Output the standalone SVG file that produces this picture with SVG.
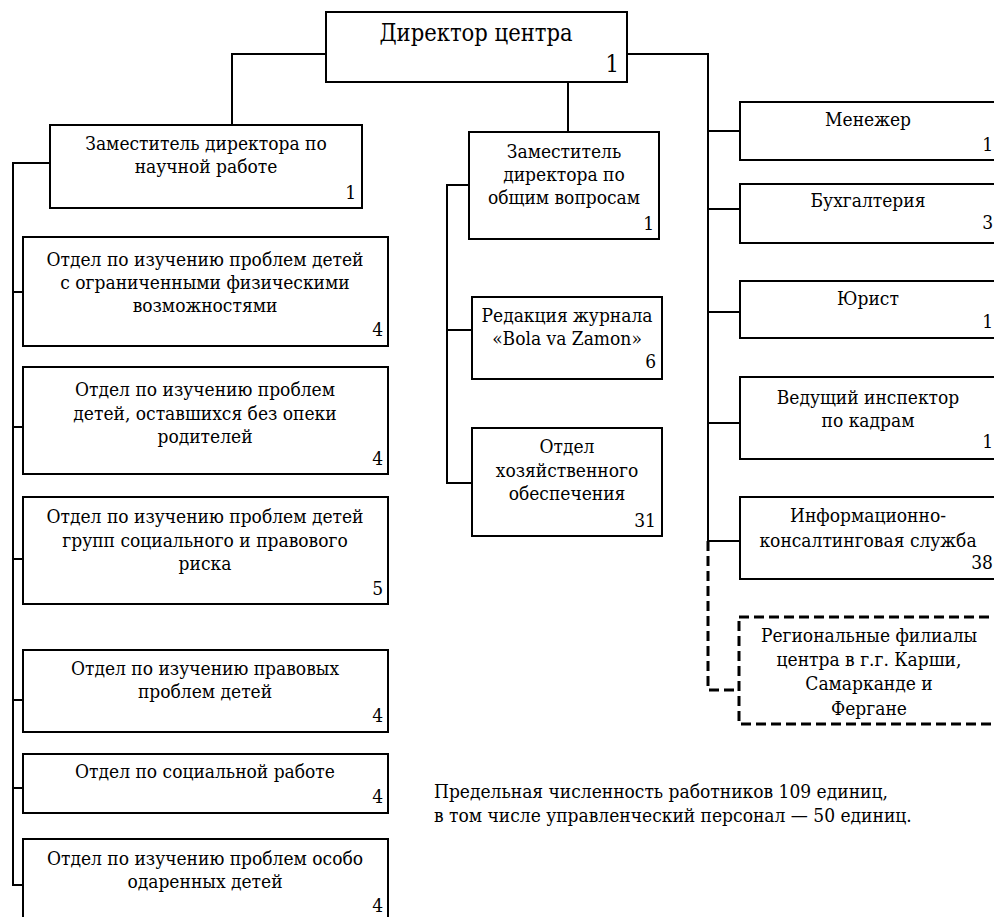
<svg xmlns="http://www.w3.org/2000/svg" width="994" height="917" viewBox="0 0 994 917">
<style>
  .box { fill: #fff; stroke: #000; stroke-width: 2; }
  .dbox { fill: #fff; stroke: #000; stroke-width: 3; stroke-dasharray: 10 5; }
  .ln { fill: none; stroke: #000; stroke-width: 2; }
  .dln { fill: none; stroke: #000; stroke-width: 3; stroke-dasharray: 10 5; }
  .c { text-anchor: middle; }
  .n { text-anchor: end; }
  .big { font-size: 23.5px; }
</style>
<rect width="994" height="917" fill="#fff"/>
<g id="connectors">
  <path class="ln" d="M326,54 H232 V125"/>
  <path class="ln" d="M568,82 V132"/>
  <path class="ln" d="M627,54 H708 V541"/>
  <path class="ln" d="M708,131 H740 M708,209 H740 M708,312 H740 M708,423 H740 M708,541 H740"/>
  <path class="dln" d="M708,541 V690 H739"/>
  <path class="ln" d="M50,163 H13 V885 H23"/>
  <path class="ln" d="M13,292 H23 M13,427 H23 M13,559 H23 M13,700 H23 M13,788 H23"/>
  <path class="ln" d="M469,185 H447 V483 H472 M447,330 H472"/>
</g>
<g font-family="'DejaVu Serif', serif" font-stretch="condensed" font-size="19" fill="#000">
<g id="director">
  <rect class="box" x="326" y="12" width="301" height="70"/>
  <text class="c big" x="476" y="41">Директор центра</text>
  <text class="n big" x="619" y="72">1</text>
</g>
<g id="deputy-science">
  <rect class="box" x="50" y="125" width="312" height="83"/>
  <text class="c" x="206" y="150">Заместитель директора по</text>
  <text class="c" x="206" y="173">научной работе</text>
  <text class="n" x="356" y="199">1</text>
</g>
<g id="dept-physical">
  <rect class="box" x="23" y="237" width="365" height="109"/>
  <text class="c" x="205" y="266">Отдел по изучению проблем детей</text>
  <text class="c" x="205" y="289">с ограниченными физическими</text>
  <text class="c" x="205" y="312">возможностями</text>
  <text class="n" x="383" y="336">4</text>
</g>
<g id="dept-orphans">
  <rect class="box" x="23" y="367" width="365" height="107"/>
  <text class="c" x="205" y="396">Отдел по изучению проблем</text>
  <text class="c" x="205" y="420">детей, оставшихся без опеки</text>
  <text class="c" x="205" y="443">родителей</text>
  <text class="n" x="383" y="465">4</text>
</g>
<g id="dept-risk">
  <rect class="box" x="23" y="497" width="365" height="107"/>
  <text class="c" x="205" y="523">Отдел по изучению проблем детей</text>
  <text class="c" x="205" y="547">групп социального и правового</text>
  <text class="c" x="205" y="570">риска</text>
  <text class="n" x="383" y="595">5</text>
</g>
<g id="dept-legal">
  <rect class="box" x="23" y="650" width="365" height="82"/>
  <text class="c" x="205" y="675">Отдел по изучению правовых</text>
  <text class="c" x="205" y="698">проблем детей</text>
  <text class="n" x="383" y="722">4</text>
</g>
<g id="dept-social">
  <rect class="box" x="23" y="754" width="365" height="59"/>
  <text class="c" x="205" y="778">Отдел по социальной работе</text>
  <text class="n" x="383" y="803">4</text>
</g>
<g id="dept-gifted">
  <rect class="box" x="23" y="839" width="365" height="100"/>
  <text class="c" x="205" y="865">Отдел по изучению проблем особо</text>
  <text class="c" x="205" y="888">одаренных детей</text>
  <text class="n" x="383" y="912">4</text>
</g>
<g id="deputy-general">
  <rect class="box" x="469" y="132" width="190" height="107"/>
  <text class="c" x="564" y="158">Заместитель</text>
  <text class="c" x="564" y="181">директора по</text>
  <text class="c" x="564" y="204">общим вопросам</text>
  <text class="n" x="654" y="230">1</text>
</g>
<g id="journal">
  <rect class="box" x="472" y="297" width="190" height="82"/>
  <text class="c" x="567" y="322">Редакция журнала</text>
  <text class="c" x="567" y="345">«Bola va Zamon»</text>
  <text class="n" x="656" y="368">6</text>
</g>
<g id="supply">
  <rect class="box" x="472" y="428" width="190" height="108"/>
  <text class="c" x="567" y="453">Отдел</text>
  <text class="c" x="567" y="477">хозяйственного</text>
  <text class="c" x="567" y="500">обеспечения</text>
  <text class="n" x="656" y="527">31</text>
</g>
<g id="manager">
  <rect class="box" x="740" y="102" width="270" height="58"/>
  <text class="c" x="868" y="126">Менежер</text>
  <text class="n" x="993" y="151">1</text>
</g>
<g id="accounting">
  <rect class="box" x="740" y="184" width="270" height="59"/>
  <text class="c" x="868" y="207">Бухгалтерия</text>
  <text class="n" x="993" y="229">3</text>
</g>
<g id="lawyer">
  <rect class="box" x="740" y="281" width="270" height="57"/>
  <text class="c" x="868" y="305">Юрист</text>
  <text class="n" x="993" y="328">1</text>
</g>
<g id="hr-inspector">
  <rect class="box" x="740" y="377" width="270" height="82"/>
  <text class="c" x="868" y="404">Ведущий инспектор</text>
  <text class="c" x="868" y="427">по кадрам</text>
  <text class="n" x="993" y="448">1</text>
</g>
<g id="info-service">
  <rect class="box" x="740" y="497" width="270" height="82"/>
  <text class="c" x="868" y="522">Информационно-</text>
  <text class="c" x="868" y="547">консалтинговая служба</text>
  <text class="n" x="993" y="569">38</text>
</g>
<g id="regional">
  <rect class="dbox" x="739" y="617" width="275" height="107"/>
  <text class="c" x="869" y="642">Региональные филиалы</text>
  <text class="c" x="869" y="666">центра в г.г. Карши,</text>
  <text class="c" x="869" y="690">Самарканде и</text>
  <text class="c" x="869" y="715">Фергане</text>
</g>
<g id="note">
  <text x="434" y="798">Предельная численность работников 109 единиц,</text>
  <text x="434" y="822">в том числе управленческий персонал — 50 единиц.</text>
</g>
</g>
</svg>
